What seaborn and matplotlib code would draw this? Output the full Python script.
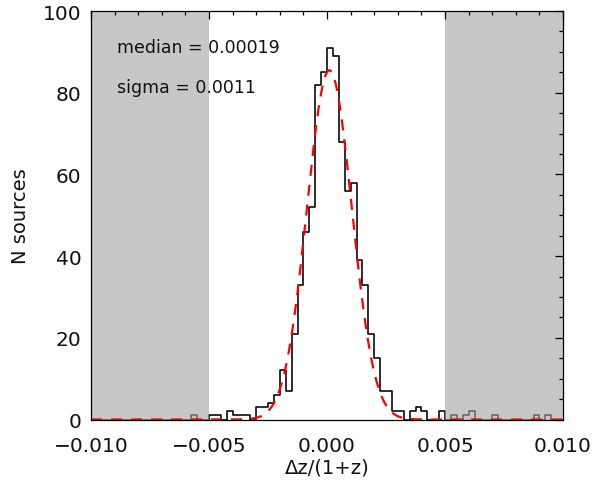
import numpy as np
import pandas as pd
import matplotlib
matplotlib.use("Agg")
import matplotlib.pyplot as plt
import seaborn as sns
from matplotlib.ticker import MultipleLocator, FixedLocator, FixedFormatter

# ---------------- data ----------------
bin_start = -0.010
bin_stop = 0.010

# counts per bin, from -0.010 to 0.010 in steps of 0.00025 (80 bins)
counts_left_tail = [0, 0, 0, 0, 0, 0, 0, 0, 0, 0,
                    0, 0, 0, 0, 0, 0, 0, 1, 0, 0]          # -0.010 .. -0.005
counts_core_left = [1, 1, 0, 2, 1, 1, 1, 0, 3, 3,
                    4, 6, 12, 7, 21, 33, 46, 52, 82, 85]   # -0.005 .. 0.000
counts_core_right = [91, 89, 68, 56, 58, 39, 33, 21, 15, 7,
                     7, 2, 2, 0, 2, 3, 2, 0, 0, 2]         # 0.000 .. 0.005
counts_right_tail = [0, 1, 0, 1, 2, 0, 0, 0, 1, 0,
                     0, 0, 0, 0, 0, 1, 0, 1, 0, 0]         # 0.005 .. 0.010

# Gaussian fit drawn as the red dashed curve
fit_amplitude = 85.5
fit_mu = 0.0001
fit_sigma = 0.00095

shade_ranges = [(-0.010, -0.005), (0.005, 0.010)]

xtick_values = [-0.010, -0.005, 0.000, 0.005, 0.010]
xtick_labels = ["\u22120.010", "\u22120.005", "0.000", "0.005", "0.010"]
ytick_values = [0, 20, 40, 60, 80, 100]

median_text = "median = 0.00019"
sigma_text = "sigma = 0.0011"
xlabel_text = "\u0394z/(1+z)"
ylabel_text = "N sources"

# ---------------- build table ----------------
counts = counts_left_tail + counts_core_left + counts_core_right + counts_right_tail
n_bins = len(counts)
edges = np.linspace(bin_start, bin_stop, n_bins + 1)
centers = 0.5 * (edges[:-1] + edges[1:])
df = pd.DataFrame({"dz": centers, "n": np.array(counts, dtype=float)})

xfit = np.linspace(bin_start, bin_stop, 1201)
yfit = fit_amplitude * np.exp(-0.5 * ((xfit - fit_mu) / fit_sigma) ** 2)
fit_df = pd.DataFrame({"dz": xfit, "n": yfit})

# ---------------- plot ----------------
sns.set_theme(style="white")
plt.rcParams["font.family"] = ["DejaVu Sans"]

fig = plt.figure(figsize=(5.95, 4.85), dpi=100)
ax = fig.add_axes([91 / 595, (485 - 420.5) / 485, (563 - 91) / 595, (420.5 - 12) / 485])

sns.histplot(data=df, x="dz", weights="n", bins=n_bins, binrange=(bin_start, bin_stop),
             element="step", fill=False, color="black", linewidth=1.15, ax=ax, zorder=1)

for lo, hi in shade_ranges:
    ax.axvspan(lo, hi, color=(165 / 255, 165 / 255, 165 / 255), alpha=0.62,
               lw=0, zorder=1.5)

sns.lineplot(data=fit_df, x="dz", y="n", color="#ff0000", linewidth=1.6,
             linestyle=(0, (5.0, 4.0)), ax=ax, zorder=3)

ax.set_xlim(bin_start, bin_stop)
ax.set_ylim(0, 100)

ax.xaxis.set_major_locator(FixedLocator(xtick_values))
ax.xaxis.set_major_formatter(FixedFormatter(xtick_labels))
ax.xaxis.set_minor_locator(MultipleLocator(0.001))
ax.yaxis.set_major_locator(FixedLocator(ytick_values))
ax.yaxis.set_minor_locator(MultipleLocator(5))

ax.set_axisbelow(False)
ax.tick_params(which="both", direction="in", top=True, right=True,
               color="black", width=0.9)
ax.tick_params(which="major", length=6)
ax.tick_params(which="minor", length=3)
ax.tick_params(axis="x", which="major", labelsize=14.5, pad=12, labelcolor="#111111")
ax.tick_params(axis="y", which="major", labelsize=14.5, pad=7, labelcolor="#111111")

for sp in ax.spines.values():
    sp.set_visible(True)
    sp.set_color("black")
    sp.set_linewidth(0.9)
    sp.set_zorder(4)

ax.set_xlabel(xlabel_text, fontsize=14, labelpad=2, color="#111111")
ax.set_ylabel(ylabel_text, fontsize=14, labelpad=9, color="#111111")

ax.text(0.055, 0.911, median_text, transform=ax.transAxes, fontsize=12.5,
        va="center", ha="left", color="#111111", zorder=5)
ax.text(0.055, 0.813, sigma_text, transform=ax.transAxes, fontsize=12.5,
        va="center", ha="left", color="#111111", zorder=5)

fig.savefig("out.png", dpi=100)
